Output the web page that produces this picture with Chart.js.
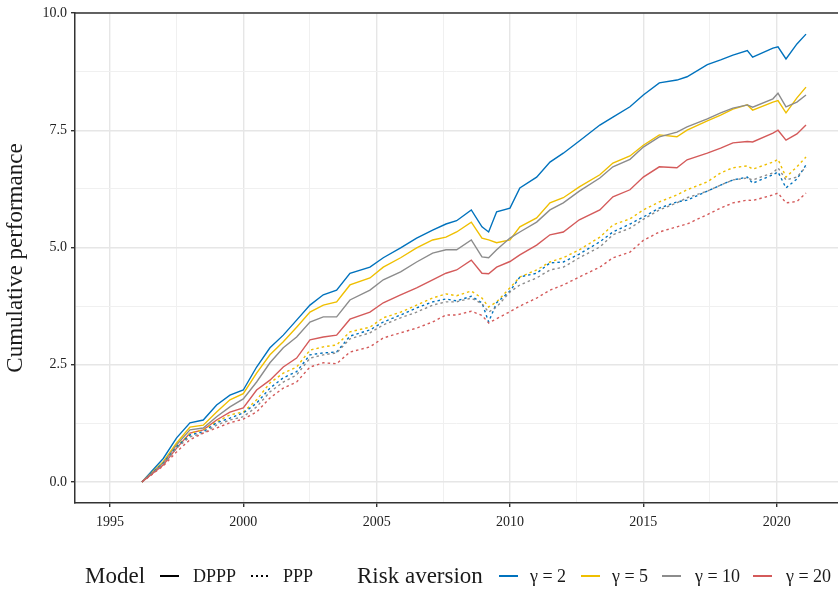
<!DOCTYPE html>
<html>
<head>
<meta charset="utf-8">
<script src="https://cdn.jsdelivr.net/npm/chart.js@4"></script>
<style>
  body { margin: 0; background: #fff; }
  #wrap { position: relative; width: 838px; height: 592px; font-family: "Liberation Serif", "DejaVu Serif", serif; color: #1a1a1a; }
  #legend { position: absolute; left: 0; top: 564px; width: 838px; height: 24px; }
  #legend span { position: absolute; top: 0; height: 24px; line-height: 24px; white-space: nowrap; }
  #legend .ttl { font-size: 23px; }
  #legend .lab { font-size: 18px; }
  #legend i { position: absolute; top: 11px; width: 19px; height: 1.6px; background: #000; }
  #legend i.dot { background: repeating-linear-gradient(90deg, #000 0 2px, transparent 2px 5px); }
</style>
</head>
<body>
<div id="wrap">
  <canvas id="chart" width="838" height="592"></canvas>
  <div id="legend">
    <span class="ttl" style="left:85px">Model</span>
    <i style="left:160px"></i>
    <span class="lab" style="left:193px">DPPP</span>
    <i class="dot" style="left:251px"></i>
    <span class="lab" style="left:283px">PPP</span>
    <span class="ttl" style="left:357px">Risk aversion</span>
    <i style="left:499px;background:#0072BD"></i>
    <span class="lab" style="left:530px">γ = 2</span>
    <i style="left:581px;background:#EFBF00"></i>
    <span class="lab" style="left:612px">γ = 5</span>
    <i style="left:662px;background:#8C8C8C"></i>
    <span class="lab" style="left:695px">γ = 10</span>
    <i style="left:753px;background:#D45A5A"></i>
    <span class="lab" style="left:786px">γ = 20</span>
  </div>
</div>
<script>
// dates (decimal years)
const years = [1996.2, 1997.0, 1997.5, 1998.0, 1998.5, 1999.0, 1999.5, 2000.0, 2000.5, 2001.0,
  2001.5, 2002.0, 2002.5, 2003.0, 2003.5, 2004.0, 2004.75, 2005.25, 2005.9, 2006.5,
  2007.1, 2007.6, 2008.0, 2008.55, 2008.95, 2009.2, 2009.5, 2010.0, 2010.37, 2011.0,
  2011.5, 2012.0, 2012.6, 2013.37, 2013.86, 2014.5, 2015.0, 2015.6, 2016.26, 2016.64,
  2017.4, 2017.9, 2018.36, 2018.9, 2019.1, 2019.86, 2020.05, 2020.35, 2020.76, 2021.1];

// DPPP (solid)
const dpppG2 = [0, 0.5, 0.94, 1.26, 1.32, 1.64, 1.85, 1.96, 2.45, 2.86,
  3.13, 3.45, 3.77, 3.99, 4.09, 4.45, 4.58, 4.78, 4.99, 5.20,
  5.37, 5.50, 5.57, 5.80, 5.44, 5.33, 5.76, 5.84, 6.27, 6.50,
  6.82, 7.01, 7.27, 7.61, 7.78, 8.0, 8.25, 8.51, 8.57, 8.64,
  8.90, 9.0, 9.1, 9.2, 9.06, 9.25, 9.28, 9.02, 9.34, 9.55];
const dpppG5 = [0, 0.43, 0.83, 1.17, 1.21, 1.49, 1.75, 1.88, 2.32, 2.71,
  2.99, 3.30, 3.62, 3.77, 3.84, 4.20, 4.35, 4.58, 4.78, 4.99,
  5.16, 5.22, 5.33, 5.54, 5.20, 5.16, 5.10, 5.16, 5.44, 5.63,
  5.95, 6.06, 6.29, 6.55, 6.80, 6.95, 7.18, 7.40, 7.36, 7.50,
  7.70, 7.82, 7.95, 8.04, 7.93, 8.10, 8.13, 7.87, 8.19, 8.42];
const dpppG10 = [0, 0.40, 0.79, 1.11, 1.15, 1.39, 1.60, 1.77, 2.13, 2.54,
  2.86, 3.09, 3.41, 3.52, 3.52, 3.88, 4.09, 4.31, 4.48, 4.69,
  4.88, 4.95, 4.95, 5.16, 4.80, 4.78, 4.95, 5.20, 5.33, 5.54,
  5.80, 5.95, 6.20, 6.48, 6.72, 6.88, 7.14, 7.36, 7.46, 7.57,
  7.74, 7.87, 7.97, 8.04, 7.99, 8.17, 8.29, 8.0, 8.1, 8.25];
const dpppG20 = [0, 0.36, 0.72, 1.04, 1.11, 1.32, 1.49, 1.58, 1.96, 2.17,
  2.45, 2.64, 3.03, 3.09, 3.13, 3.47, 3.62, 3.82, 3.99, 4.14,
  4.31, 4.45, 4.52, 4.73, 4.45, 4.44, 4.58, 4.70, 4.84, 5.05,
  5.27, 5.33, 5.59, 5.80, 6.08, 6.23, 6.50, 6.72, 6.70, 6.87,
  7.01, 7.12, 7.23, 7.26, 7.25, 7.44, 7.50, 7.29, 7.42, 7.61];

// PPP (dotted)
const pppG2 = [0, 0.40, 0.75, 1.0, 1.07, 1.26, 1.36, 1.47, 1.68, 2.0,
  2.22, 2.35, 2.71, 2.75, 2.77, 3.11, 3.24, 3.41, 3.56, 3.71,
  3.84, 3.90, 3.86, 3.96, 3.82, 3.41, 3.82, 4.07, 4.37, 4.45,
  4.67, 4.69, 4.86, 5.12, 5.33, 5.50, 5.65, 5.84, 5.97, 6.01,
  6.20, 6.33, 6.44, 6.50, 6.37, 6.55, 6.61, 6.27, 6.46, 6.76];
const pppG5 = [0, 0.40, 0.75, 1.04, 1.11, 1.28, 1.43, 1.49, 1.75, 2.11,
  2.32, 2.45, 2.81, 2.88, 2.92, 3.20, 3.30, 3.50, 3.62, 3.77,
  3.92, 4.01, 3.97, 4.07, 3.92, 3.73, 3.84, 4.14, 4.37, 4.52,
  4.69, 4.78, 4.95, 5.22, 5.48, 5.61, 5.80, 5.97, 6.12, 6.23,
  6.40, 6.59, 6.70, 6.74, 6.67, 6.82, 6.88, 6.50, 6.72, 6.93];
const pppG10 = [0, 0.38, 0.72, 0.96, 1.04, 1.21, 1.32, 1.39, 1.60, 1.92,
  2.13, 2.28, 2.64, 2.71, 2.75, 3.05, 3.18, 3.35, 3.50, 3.62,
  3.77, 3.84, 3.84, 3.92, 3.80, 3.62, 3.73, 4.05, 4.20, 4.35,
  4.52, 4.58, 4.78, 5.01, 5.27, 5.41, 5.60, 5.80, 5.95, 6.06,
  6.20, 6.33, 6.44, 6.48, 6.44, 6.59, 6.70, 6.44, 6.50, 6.72];
const pppG20 = [0, 0.34, 0.64, 0.90, 1.04, 1.15, 1.26, 1.34, 1.49, 1.79,
  2.0, 2.13, 2.45, 2.54, 2.52, 2.77, 2.88, 3.07, 3.18, 3.28,
  3.41, 3.56, 3.56, 3.64, 3.55, 3.39, 3.48, 3.63, 3.75, 3.92,
  4.09, 4.20, 4.37, 4.58, 4.78, 4.90, 5.15, 5.33, 5.44, 5.50,
  5.70, 5.84, 5.95, 6.01, 6.0, 6.12, 6.16, 5.95, 5.98, 6.16];

const xTicks = [1995, 1997.5, 2000, 2002.5, 2005, 2007.5, 2010, 2012.5, 2015, 2017.5, 2020];
const yTicks = [0, 1.25, 2.5, 3.75, 5, 6.25, 7.5, 8.75, 10];

const colors = { g2: "#0072BD", g5: "#EFBF00", g10: "#8C8C8C", g20: "#D45A5A" };

function series(label, vals, color, dotted) {
  return {
    label: label,
    data: years.map((y, i) => ({ x: y, y: vals[i] })),
    borderColor: color,
    borderWidth: 1.4,
    borderDash: dotted ? [2.5, 3] : [],
    pointRadius: 0,
    tension: 0,
    fill: false
  };
}

const isMajorX = (v) => v % 5 === 0;
const isMajorY = (v) => v % 2.5 === 0;

// panel top border
const topBorder = {
  id: "topBorder",
  afterDraw(chart) {
    const a = chart.chartArea, c = chart.ctx;
    c.save();
    c.strokeStyle = "#333";
    c.lineWidth = 1.5;
    c.beginPath();
    c.moveTo(a.left, a.top);
    c.lineTo(a.right, a.top);
    c.stroke();
    c.restore();
  }
};

const tickFont = { family: "Liberation Serif", size: 14 };

new Chart(document.getElementById("chart"), {
  type: "line",
  data: {
    datasets: [
      series("PPP γ = 20", pppG20, colors.g20, true),
      series("PPP γ = 10", pppG10, colors.g10, true),
      series("PPP γ = 2", pppG2, colors.g2, true),
      series("PPP γ = 5", pppG5, colors.g5, true),
      series("DPPP γ = 20", dpppG20, colors.g20, false),
      series("DPPP γ = 10", dpppG10, colors.g10, false),
      series("DPPP γ = 5", dpppG5, colors.g5, false),
      series("DPPP γ = 2", dpppG2, colors.g2, false)
    ]
  },
  options: {
    responsive: false,
    animation: false,
    devicePixelRatio: 1,
    layout: { padding: { top: 13, bottom: 59, left: 0, right: 0 } },
    plugins: { legend: { display: false }, tooltip: { enabled: false } },
    scales: {
      x: {
        type: "linear",
        min: 1993.69,
        max: 2022.3,
        afterBuildTicks: (s) => { s.ticks = xTicks.map((v) => ({ value: v })); },
        afterFit: (s) => { s.height = 30; },
        border: { display: true, color: "#333", width: 1.5 },
        grid: {
          color: (c) => (c.tick && isMajorX(c.tick.value) ? "#e6e6e6" : "#f0f0f0"),
          lineWidth: (c) => (c.tick && isMajorX(c.tick.value) ? 1.4 : 1),
          tickColor: (c) => (c.tick && isMajorX(c.tick.value) ? "#333" : "rgba(0,0,0,0)"),
          tickLength: 4
        },
        ticks: {
          autoSkip: false,
          maxRotation: 0,
          padding: 7,
          color: "#222",
          font: tickFont,
          callback: (v) => (isMajorX(v) ? String(v) : "")
        }
      },
      y: {
        min: -0.45,
        max: 10,
        afterBuildTicks: (s) => { s.ticks = yTicks.map((v) => ({ value: v })); },
        afterFit: (s) => { s.width = 75; },
        border: { display: true, color: "#333", width: 1.5 },
        grid: {
          color: (c) => (c.tick && isMajorY(c.tick.value) ? "#e6e6e6" : "#f0f0f0"),
          lineWidth: (c) => (c.tick && isMajorY(c.tick.value) ? 1.4 : 1),
          tickColor: (c) => (c.tick && isMajorY(c.tick.value) ? "#333" : "rgba(0,0,0,0)"),
          tickLength: 4
        },
        ticks: {
          autoSkip: false,
          padding: 4,
          color: "#222",
          font: tickFont,
          callback: (v) => (isMajorY(v) ? v.toFixed(1) : "")
        },
        title: {
          display: true,
          text: "Cumulative performance",
          color: "#1a1a1a",
          font: { family: "Liberation Serif", size: 23 },
          padding: { top: 2, bottom: 0 }
        }
      }
    }
  },
  plugins: [topBorder]
});
</script>
</body>
</html>
